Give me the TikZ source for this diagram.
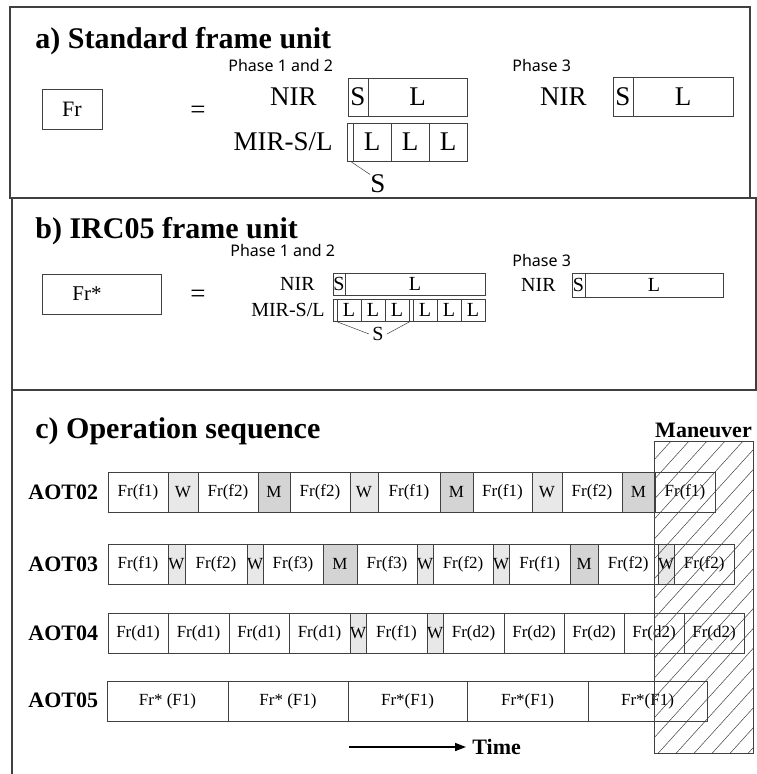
\documentclass[tikz,border=0pt]{standalone}
\usepackage{fontspec}
\setmainfont{Liberation Serif}
\newfontfamily\phasefont{Noto Sans}
\usetikzlibrary{arrows.meta}

\definecolor{wgray}{HTML}{E8E8E8}
\definecolor{mgray}{HTML}{D4D4D4}
\definecolor{edgegray}{HTML}{404040}

\newcommand{\fsz}[1]{\fontsize{#1}{#1}\selectfont}

\begin{document}
\begin{tikzpicture}[x=1pt,y=-1pt,line width=0.8pt,
  title/.style={font=\fsz{30}\bfseries,anchor=base west,inner sep=0pt},
  phase/.style={font=\phasefont\fsz{16},anchor=base west,inner sep=0pt},
  big/.style={font=\fsz{27},inner sep=0pt},
  small/.style={font=\fsz{20},inner sep=0pt},
  slot/.style={draw=edgegray,inner sep=0pt,outer sep=0pt,anchor=west},
  cell/.style={draw=edgegray,inner sep=0pt,outer sep=0pt,anchor=west,minimum height=40,font=\fsz{17}},
  frcell/.style={fill=white},
  wcell/.style={fill=wgray},
  mcell/.style={fill=mgray},
  aot/.style={font=\fsz{22}\bfseries,anchor=west,inner sep=0pt},
  leader/.style={draw=edgegray,line width=0.5pt},
  panel/.style={draw=edgegray,line width=1.3pt}]
  \useasboundingbox (0,0) rectangle (757,774);

  % panels
  \draw[panel] (10,7) rectangle (750,198);
  \draw[panel] (12,198) rectangle (756,390);
  \draw[panel] (12,390) -- (12,774);

  % a) standard frame unit
  \node[title] (ttlA) at (35,48) {a) Standard frame unit};
  \node[phase] (phA1) at (228,71) {Phase 1 and 2};
  \node[phase] (phA3) at (512,71) {Phase 3};
  \node[draw=edgegray,minimum width=60,minimum height=40,font=\fsz{22}] (frA) at (72,109) {Fr};
  \node[big] (eqA) at (198,112) {=};
  \node[big,anchor=east] (nirA) at (317,97) {NIR};
  \node[slot,big,minimum width=20,minimum height=38] (nirAs) at (348,97) {S};
  \node[slot,big,minimum width=99,minimum height=38] (nirAl) at (nirAs.east) {L};
  \node[big,anchor=east] (mirA) at (333,142) {MIR-S/L};
  \node[slot,minimum width=6,minimum height=38] (mirAs) at (347,142) {};
  \node[slot,big,minimum width=38,minimum height=38] (mirA1) at (mirAs.east) {L};
  \node[slot,big,minimum width=38,minimum height=38] (mirA2) at (mirA1.east) {L};
  \node[slot,big,minimum width=38,minimum height=38] (mirA3) at (mirA2.east) {L};
  \node[big] (sA) at (378,184) {S};
  \draw[leader] (mirAs.south) -- (sA.north west);
  \node[big,anchor=east] (nirA3) at (587,97) {NIR};
  \node[slot,big,minimum width=20,minimum height=39] (nirA3s) at (613,97) {S};
  \node[slot,big,minimum width=100,minimum height=39] (nirA3l) at (nirA3s.east) {L};

  % b) IRC05 frame unit
  \node[title] (ttlB) at (35,238) {b) IRC05 frame unit};
  \node[phase] (phB1) at (230,256) {Phase 1 and 2};
  \node[phase] (phB3) at (512,266) {Phase 3};
  \node[draw=edgegray,minimum height=40,text width=59pt,inner xsep=30pt,inner ysep=0pt,
        align=left,anchor=west,font=\fsz{21}] (frB) at (42,294) {Fr*};
  \node[big] (eqB) at (198,296) {=};
  \node[small,anchor=east] (nirB) at (315,284) {NIR};
  \node[slot,small,minimum width=12,minimum height=22] (nirBs) at (333,284) {S};
  \node[slot,small,minimum width=140,minimum height=22] (nirBl) at (nirBs.east) {L};
  \node[small,anchor=east] (mirB) at (325,310) {MIR-S/L};
  \coordinate (prev) at (333,310);
  \foreach \w/\t [count=\k] in {4/,24/L,24/L,24/L,4/,24/L,24/L,24/L} {
    \node[slot,small,minimum width=\w,minimum height=22] (mirB\k) at (prev) {\t};
    \coordinate (prev) at (mirB\k.east);
  }
  \node[small] (sB) at (378,334) {S};
  \draw[leader] (mirB1.south) -- ([xshift=-3]sB.west);
  \draw[leader] (mirB5.south) -- ([xshift=3]sB.east);
  \node[small,anchor=east] (nirB3) at (556,285) {NIR};
  \node[slot,small,minimum width=13,minimum height=24] (nirB3s) at (572,285) {S};
  \node[slot,small,minimum width=138,minimum height=24] (nirB3l) at (nirB3s.east) {L};

  % c) operation sequence
  \node[title] (ttlC) at (35,438) {c) Operation sequence};

  \node[aot] (aot2) at (28,492) {AOT02};
  \coordinate (prev) at (108,492);
  \foreach \w/\t/\s [count=\k] in {60/Fr(f1)/frcell,30/W/wcell,60/Fr(f2)/frcell,32/M/mcell,
      60/Fr(f2)/frcell,28/W/wcell,62/Fr(f1)/frcell,33/M/mcell,59/Fr(f1)/frcell,30/W/wcell,
      60/Fr(f2)/frcell,33/M/mcell,60/Fr(f1)/frcell} {
    \node[cell,\s,minimum width=\w] (r2c\k) at (prev) {\t};
    \coordinate (prev) at (r2c\k.east);
  }

  \node[aot] (aot3) at (28,564) {AOT03};
  \coordinate (prev) at (108,564);
  \foreach \w/\t/\s [count=\k] in {60/Fr(f1)/frcell,17/W/wcell,62/Fr(f2)/frcell,16/W/wcell,
      60/Fr(f3)/frcell,34/M/mcell,60/Fr(f3)/frcell,16/W/wcell,60/Fr(f2)/frcell,15/W/wcell,
      61/Fr(f1)/frcell,28/M/mcell,60/Fr(f2)/frcell,16/W/wcell,60/Fr(f2)/frcell} {
    \node[cell,\s,minimum width=\w] (r3c\k) at (prev) {\t};
    \coordinate (prev) at (r3c\k.east);
  }

  \node[aot] (aot4) at (28,633) {AOT04};
  \coordinate (prev) at (108,633);
  \foreach \w/\t/\s [count=\k] in {60/Fr(d1)/frcell,61/Fr(d1)/frcell,60/Fr(d1)/frcell,
      61/Fr(d1)/frcell,16/W/wcell,61/Fr(f1)/frcell,15/W/wcell,61/Fr(d2)/frcell,
      60/Fr(d2)/frcell,60/Fr(d2)/frcell,60/Fr(d2)/frcell,60/Fr(d2)/frcell} {
    \node[cell,\s,minimum width=\w] (r4c\k) at (prev) {\t};
    \coordinate (prev) at (r4c\k.east);
  }

  \node[aot] (aot5) at (28,700) {AOT05};
  \coordinate (prev) at (107,701);
  \foreach \w/\t [count=\k] in {121/Fr* (F1),120/Fr* (F1),119/Fr*(F1),121/Fr*(F1),119/Fr*(F1)} {
    \node[cell,minimum width=\w] (r5c\k) at (prev) {\t};
    \coordinate (prev) at (r5c\k.east);
  }

  % time axis
  \coordinate (tstart) at (349,747);
  \node[aot] (time) at (472,747) {Time};
  \draw[line width=1.6pt,-{Triangle[length=11pt,width=8pt]}] (tstart) -- ([xshift=-6]time.west);

  % maneuver window
  \node[draw=edgegray,minimum width=99,minimum height=312,anchor=north west,inner sep=0pt,outer sep=0pt] (mnv) at (654,441) {};
  \begin{scope}
    \clip (mnv.north west) rectangle (mnv.south east);
    \foreach \a in {364,382,...,780}
      \draw[edgegray,line width=0.5pt] (\a,760) -- ++(290,-320);
  \end{scope}
  \node[aot,anchor=south] (man) at ([yshift=3]mnv.north) {Maneuver};
\end{tikzpicture}
\end{document}
